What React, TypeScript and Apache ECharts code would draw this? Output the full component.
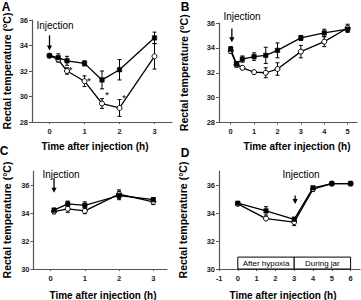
import React, { useEffect, useRef } from "react";
import * as echarts from "echarts";

// ---- Panel A ----
const aX = [0, 0.25, 0.5, 1, 1.5, 2, 3];
const aFilled = [33.2, 33.05, 32.8, 32.6, 31.3, 32.1, 34.6];
const aFilledErr = [0.1, 0.3, 0.35, 0.2, 0.7, 0.8, 0.45];
const aOpen = [33.2, 32.9, 32.0, 31.2, 29.45, 29.1, 33.15];
const aOpenErr = [0.1, 0.2, 0.25, 0.42, 0.38, 0.66, 1.0];
const aStars = [[0.6, 32.1], [1.13, 31.2], [1.64, 30.1], [2.13, 29.9]];

// ---- Panel B ----
const bX = [0, 0.25, 0.5, 1, 1.5, 2, 3, 4, 5];
const bFilled = [33.9, 32.7, 33.1, 33.3, 33.4, 33.8, 34.8, 35.2, 35.5];
const bFilledErr = [0.2, 0.2, 0.25, 0.3, 0.65, 0.6, 0.2, 0.3, 0.25];
const bOpen = [33.75, 32.65, 32.4, 32.05, 32.0, 32.3, 33.7, 34.5, 35.6];
const bOpenErr = [0.2, 0.2, 0.15, 0.1, 0.4, 0.5, 0.5, 0.4, 0.3];

// ---- Panel C ----
const cX = [0.1, 0.5, 1, 2, 3];
const cFilled = [34.2, 34.65, 34.55, 35.25, 34.95];
const cFilledErr = [0.15, 0.2, 0.25, 0.3, 0.15];
const cOpen = [34.1, 34.3, 34.15, 35.35, 34.8];
const cOpenErr = [0.15, 0.25, 0.2, 0.3, 0.2];

// ---- Panel D ----
const dX = [0, 1.5, 3, 4, 5, 6];
const dFilled = [34.7, 34.15, 33.55, 35.8, 36.1, 36.1];
const dFilledErr = [0.05, 0.3, 0.15, 0.1, 0.05, 0.05];
const dOpen = [34.65, 33.6, 33.35, 35.7, 36.1, 36.1];
const dOpenErr = [0.05, 0.1, 0.25, 0.15, 0.05, 0.05];
const dBoxNames = ["After hypoxia", "During jar"];
const dBoxFrom = [0, 3];
const dBoxTo = [3, 6];
const dBoxLow = 30;
const dBoxHigh = 30.85;

// injection arrows: [x, top, tip] per panel
const arrowA = [0, 34.8, 33.6];
const arrowB = [0.05, 35.55, 34.45];
const arrowC = [0.1, 36.5, 35.45];
const arrowD = [3.05, 35.25, 34.65];

// tick labels
const ticksA = [0, 1, 2, 3];
const ticksB = [0, 1, 2, 3, 4, 5];
const ticksC = [0, 1, 2, 3];
const ticksD = [-1, 0, 1, 2, 3, 4, 5, 6];

const FONT = "Liberation Sans, Arial, sans-serif";
const INK = "#000";
const AXIS = "#555";

function errSeries(idx: number, xs: number[], ys: number[], errs: number[]) {
  return {
    type: "custom",
    xAxisIndex: idx,
    yAxisIndex: idx,
    silent: true,
    z: 3,
    encode: { x: 0, y: [1, 2] },
    data: xs.map((x, i) => [x, ys[i] - errs[i], ys[i] + errs[i]]),
    renderItem: (params: any, api: any) => {
      const lo = api.coord([api.value(0), api.value(1)]);
      const hi = api.coord([api.value(0), api.value(2)]);
      const w = 2;
      const st = { stroke: INK, lineWidth: 1 };
      return {
        type: "group",
        children: [
          { type: "line", shape: { x1: lo[0], y1: lo[1], x2: hi[0], y2: hi[1] }, style: st },
          { type: "line", shape: { x1: lo[0] - w, y1: lo[1], x2: lo[0] + w, y2: lo[1] }, style: st },
          { type: "line", shape: { x1: hi[0] - w, y1: hi[1], x2: hi[0] + w, y2: hi[1] }, style: st },
        ],
      };
    },
  };
}

function arrowSeries(idx: number, a: number[]) {
  return {
    type: "custom",
    xAxisIndex: idx,
    yAxisIndex: idx,
    silent: true,
    z: 6,
    encode: { x: 0, y: [1, 2] },
    data: [a],
    renderItem: (params: any, api: any) => {
      const top = api.coord([api.value(0), api.value(1)]);
      const tip = api.coord([api.value(0), api.value(2)]);
      const h = 5;
      const w = 2.6;
      return {
        type: "group",
        children: [
          {
            type: "line",
            shape: { x1: top[0], y1: top[1], x2: tip[0], y2: tip[1] - h + 1 },
            style: { stroke: INK, lineWidth: 1.3 },
          },
          {
            type: "polygon",
            shape: { points: [[tip[0] - w, tip[1] - h], [tip[0] + w, tip[1] - h], [tip[0], tip[1]]] },
            style: { fill: INK },
          },
        ],
      };
    },
  };
}

function boxSeries(idx: number) {
  return {
    type: "custom",
    xAxisIndex: idx,
    yAxisIndex: idx,
    silent: true,
    z: 1,
    encode: { x: [0, 1], y: [2, 3] },
    data: dBoxNames.map((_, i) => [dBoxFrom[i], dBoxTo[i], dBoxLow, dBoxHigh]),
    renderItem: (params: any, api: any) => {
      const p0 = api.coord([api.value(0), api.value(3)]);
      const p1 = api.coord([api.value(1), api.value(2)]);
      return {
        type: "group",
        children: [
          {
            type: "rect",
            shape: { x: p0[0], y: p0[1], width: p1[0] - p0[0], height: p1[1] - p0[1] },
            style: { fill: "#fff", stroke: INK, lineWidth: 1 },
          },
          {
            type: "text",
            x: (p0[0] + p1[0]) / 2,
            y: (p0[1] + p1[1]) / 2 + 0.5,
            style: {
              text: dBoxNames[params.dataIndex],
              fontSize: 8,
              fontFamily: FONT,
              fill: INK,
              align: "center",
              verticalAlign: "middle",
            },
          },
        ],
      };
    },
  };
}

function lineSeries(idx: number, xs: number[], ys: number[], filled: boolean) {
  return {
    type: "line",
    xAxisIndex: idx,
    yAxisIndex: idx,
    data: xs.map((x, i) => [x, ys[i]]),
    symbol: filled ? "rect" : "circle",
    symbolSize: filled ? 4.5 : 5,
    z: filled ? 5 : 4,
    lineStyle: { color: INK, width: 1.3 },
    itemStyle: filled
      ? { color: INK, borderColor: INK, borderWidth: 0.5 }
      : { color: "#fff", borderColor: INK, borderWidth: 1 },
    silent: true,
  };
}

function xAxisCfg(idx: number, min: number, max: number, ticks: number[]) {
  return {
    type: "value",
    gridIndex: idx,
    min,
    max,
    axisLine: { show: true, onZero: false, lineStyle: { color: AXIS, width: 1.2 } },
    axisTick: { show: true, length: 2, customValues: ticks, lineStyle: { color: AXIS } },
    axisLabel: {
      customValues: ticks,
      fontSize: 7.5,
      fontWeight: "bold",
      color: "#222",
      margin: 5,
      fontFamily: FONT,
    },
    splitLine: { show: false },
  };
}

function yAxisCfg(idx: number, min: number, max: number, nameGap: number, sup: boolean) {
  return {
    type: "value",
    gridIndex: idx,
    min,
    max,
    interval: 2,
    axisLine: { show: true, onZero: false, lineStyle: { color: AXIS, width: 1.2 } },
    axisTick: { show: true, length: 3, lineStyle: { color: AXIS } },
    axisLabel: {
      fontSize: 7.5,
      fontWeight: "bold",
      color: "#222",
      margin: 4,
      showMaxLabel: max === 36,
      fontFamily: FONT,
    },
    splitLine: { show: false },
    name: sup ? "{a|Rectal temperature (}{s|o}{a|C)}" : "{a|Rectal temperature (°C)}",
    nameLocation: "middle",
    nameGap,
    nameRotate: 90,
    nameTextStyle: {
      rich: {
        a: { fontSize: 10.5, fontWeight: "bold", color: INK, fontFamily: FONT, lineHeight: 12 },
        s: { fontSize: 7, fontWeight: "bold", color: INK, fontFamily: FONT, lineHeight: 7, verticalAlign: "top" },
      },
    },
  };
}

function txt(text: string, x: number, y: number, size: number, bold: boolean) {
  return {
    type: "text",
    x,
    y,
    silent: true,
    z: 100,
    style: {
      text,
      fontSize: size,
      fontWeight: bold ? "bold" : "normal",
      fontFamily: FONT,
      fill: INK,
      align: "center",
      verticalAlign: "middle",
    },
  };
}

export default function App() {
  const ref = useRef<HTMLDivElement>(null);
  useEffect(() => {
    if (!ref.current) return;
    const chart = echarts.init(ref.current, null, { renderer: "svg" });
    const option: any = {
      animation: false,
      backgroundColor: "#fff",
      textStyle: { fontFamily: FONT },
      grid: [
        { left: 30, top: 20, width: 142, height: 102 },
        { left: 219, top: 23, width: 138, height: 99.5 },
        { left: 30, top: 171, width: 137, height: 98 },
        { left: 219, top: 171, width: 141, height: 98 },
      ],
      xAxis: [
        xAxisCfg(0, -0.5, 3.5, ticksA),
        xAxisCfg(1, -0.5, 5.4, ticksB),
        xAxisCfg(2, -0.5, 3.4, ticksC),
        xAxisCfg(3, -1, 6.5, ticksD),
      ],
      yAxis: [
        yAxisCfg(0, 28, 36, 19, true),
        yAxisCfg(1, 28, 36, 29, true),
        yAxisCfg(2, 30, 37, 21, false),
        yAxisCfg(3, 30, 37, 30, false),
      ],
      series: [
        // A
        errSeries(0, aX, aFilled, aFilledErr),
        errSeries(0, aX, aOpen, aOpenErr),
        lineSeries(0, aX, aFilled, true),
        lineSeries(0, aX, aOpen, false),
        arrowSeries(0, arrowA),
        {
          type: "scatter",
          xAxisIndex: 0,
          yAxisIndex: 0,
          silent: true,
          symbolSize: 1,
          itemStyle: { color: "rgba(0,0,0,0)" },
          data: aStars,
          label: {
            show: true,
            formatter: "*",
            position: "inside",
            color: INK,
            fontSize: 9,
            fontWeight: "bold",
            fontFamily: FONT,
          },
        },
        // B
        errSeries(1, bX, bFilled, bFilledErr),
        errSeries(1, bX, bOpen, bOpenErr),
        lineSeries(1, bX, bFilled, true),
        lineSeries(1, bX, bOpen, false),
        arrowSeries(1, arrowB),
        // C
        errSeries(2, cX, cFilled, cFilledErr),
        errSeries(2, cX, cOpen, cOpenErr),
        lineSeries(2, cX, cFilled, true),
        lineSeries(2, cX, cOpen, false),
        arrowSeries(2, arrowC),
        // D
        boxSeries(3),
        errSeries(3, dX, dFilled, dFilledErr),
        errSeries(3, dX, dOpen, dOpenErr),
        lineSeries(3, dX, dFilled, true),
        lineSeries(3, dX, dOpen, false),
        arrowSeries(3, arrowD),
      ],
      graphic: [
        txt("A", 6, 7, 12, true),
        txt("B", 185, 7, 12, true),
        txt("C", 4, 151, 12, true),
        txt("D", 185, 153, 12, true),
        txt("Injection", 55, 25, 10, false),
        txt("Injection", 242, 16, 10, false),
        txt("Injection", 61, 174, 10, false),
        txt("Injection", 301, 174, 10, false),
        txt("Time after injection (h)", 95, 146, 10, true),
        txt("Time after injection (h)", 297, 146, 10, true),
        txt("Time after injection (h)", 103, 295, 10, true),
        txt("Time after injection (h)", 283, 295, 10, true),
      ],
    };
    chart.setOption(option);
    return () => chart.dispose();
  }, []);
  return (
    <div
      ref={ref}
      style={{ position: "fixed", left: 0, top: 0, width: 361, height: 300, background: "#fff" }}
    />
  );
}
